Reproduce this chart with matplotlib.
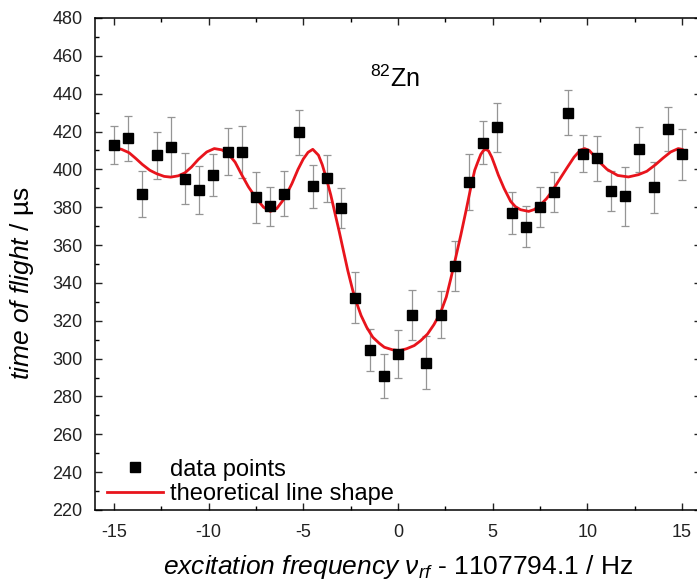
import matplotlib
matplotlib.use("Agg")
import matplotlib.pyplot as plt
from matplotlib.lines import Line2D
from matplotlib.ticker import MultipleLocator

plt.rcParams['font.family'] = ['Liberation Sans', 'DejaVu Sans']
plt.rcParams['mathtext.fontset'] = 'custom'
plt.rcParams['mathtext.rm'] = 'Liberation Sans'
plt.rcParams['mathtext.it'] = 'Liberation Sans:italic'
plt.rcParams['axes.unicode_minus'] = False

# measured time of flight vs. detuning (0.75 Hz steps)
freq = [-15.0, -14.25, -13.5, -12.75, -12.0, -11.25, -10.5, -9.75, -9.0, -8.25,
        -7.5, -6.75, -6.0, -5.25, -4.5, -3.75, -3.0, -2.25, -1.5, -0.75,
        0.0, 0.75, 1.5, 2.25, 3.0, 3.75, 4.5, 5.25, 6.0, 6.75,
        7.5, 8.25, 9.0, 9.75, 10.5, 11.25, 12.0, 12.75, 13.5, 14.25, 15.0]
tof = [412.9, 416.4, 387.0, 407.4, 412.0, 395.0, 389.0, 397.0, 409.4, 409.2,
       385.3, 380.5, 387.2, 419.6, 391.0, 395.2, 379.6, 332.2, 304.7, 290.9,
       302.4, 323.2, 297.7, 323.2, 349.1, 393.4, 414.1, 422.3, 376.9, 369.8,
       379.9, 388.1, 430.0, 408.3, 405.8, 388.5, 385.8, 410.6, 390.6, 421.2, 407.9]
tof_err = [10.0, 12.0, 12.0, 12.6, 15.5, 13.5, 12.6, 11.0, 12.6, 13.5,
           13.4, 10.4, 11.8, 12.0, 11.5, 12.4, 10.6, 13.6, 11.0, 11.5,
           12.8, 13.3, 14.0, 12.4, 13.2, 14.8, 11.3, 13.0, 11.2, 11.0,
           10.6, 10.7, 12.0, 9.8, 12.0, 10.6, 15.6, 12.0, 13.5, 11.5, 13.6]

# theoretical line shape
fit_x = [-15.0, -14.6, -14.2, -13.85, -13.5, -13.1, -12.74, -12.35, -12.0, -11.6,
         -11.25, -10.9, -10.54, -10.1, -9.7, -9.3, -8.96, -8.6, -8.26, -7.9,
         -7.5, -7.1, -6.74, -6.4, -5.98, -5.6, -5.28, -5.0, -4.75, -4.5,
         -4.2, -4.0, -3.79, -3.55, -3.35, -3.1, -2.91, -2.65, -2.39, -2.15,
         -1.95, -1.65, -1.33, -1.0, -0.72, -0.3, 0.07, 0.45, 0.86, 1.2,
         1.56, 1.9, 2.26, 2.55, 2.79, 3.05, 3.32, 3.6, 3.84, 4.05,
         4.2, 4.37, 4.5, 4.63, 4.78, 4.95, 5.1, 5.3, 5.6, 5.95,
         6.2, 6.47, 6.9, 7.2, 7.53, 7.85, 8.14, 8.55, 8.93, 9.3,
         9.63, 9.85, 10.1, 10.33, 10.7, 11.04, 11.6, 12.17, 12.7, 13.14,
         13.6, 14.0, 14.4, 14.8, 15.0]
fit_y = [411.5, 410.6, 408.8, 405.8, 402.6, 399.5, 397.7, 396.3, 395.9, 396.6,
         398.2, 401.3, 405.3, 409.2, 411.0, 410.3, 408.2, 403.8, 397.3, 390.8,
         384.9, 380.0, 377.8, 379.3, 384.9, 392.5, 400.0, 405.5, 409.0, 410.6,
         407.5, 402.5, 395.5, 386.5, 377.8, 367.0, 358.3, 346.5, 336.1, 328.5,
         322.8, 316.5, 311.3, 308.2, 306.0, 304.7, 304.2, 305.2, 306.9, 309.5,
         313.0, 318.0, 324.6, 332.5, 342.3, 353.5, 365.4, 378.5, 390.2, 399.5,
         403.5, 407.9, 409.8, 410.6, 409.8, 406.5, 402.5, 397.0, 390.0, 383.1,
         380.3, 378.7, 377.8, 378.8, 381.3, 384.6, 388.5, 395.0, 400.9, 406.5,
         410.2, 411.0, 410.0, 407.5, 403.3, 400.0, 396.8, 396.0, 397.2, 399.0,
         402.5, 406.0, 409.2, 411.0, 410.6]

red = '#e8141c'

fig = plt.figure(figsize=(6.97, 5.86), dpi=100)
ax = fig.add_axes([0.1363, 0.1297, 0.8694, 0.8396])

ax.plot(fit_x, fit_y, color=red, lw=2.0, zorder=2)
ax.errorbar(freq, tof, yerr=tof_err, fmt='none', ecolor='#959595',
            elinewidth=0.9, capsize=3, capthick=0.9, zorder=1)
ax.plot(freq, tof, 's', color='black', ms=6.5, zorder=3)

ax.set_xlim(-16, 16)
ax.set_ylim(220, 480)
ax.xaxis.set_major_locator(MultipleLocator(5))
ax.xaxis.set_minor_locator(MultipleLocator(2.5))
ax.yaxis.set_major_locator(MultipleLocator(20))
ax.yaxis.set_minor_locator(MultipleLocator(10))
ax.tick_params(which='both', direction='in', top=True, right=True, width=1)
ax.tick_params(which='major', length=5, labelsize=13, colors='#222222')
ax.tick_params(which='minor', length=3)
ax.tick_params(axis='y', pad=9)
ax.tick_params(axis='x', pad=10)
for s in ax.spines.values():
    s.set_linewidth(1.1)

ax.set_xlabel(r'$\mathit{excitation\ frequency\ \nu_{rf}}$ - 1107794.1 / Hz',
              fontsize=19, labelpad=9)
ax.set_ylabel(r'$\mathit{time\ of\ flight}$ / µs', fontsize=19)
ax.yaxis.set_label_coords(-0.097, 0.461)

ax.text(-1.47, 448, r'$^{82}$Zn', fontsize=18, va='center', ha='left')

handles = [Line2D([], [], ls='none', marker='s', color='black', ms=6.5),
           Line2D([], [], color=red, lw=2.0)]
ax.legend(handles, ['data points', 'theoretical line shape'], loc='lower left',
          bbox_to_anchor=(0.02, 0.01), frameon=False, fontsize=17,
          handlelength=2.37, handletextpad=0.3, borderaxespad=0,
          borderpad=0, labelspacing=0.1)

fig.savefig('out.png', dpi=100)
